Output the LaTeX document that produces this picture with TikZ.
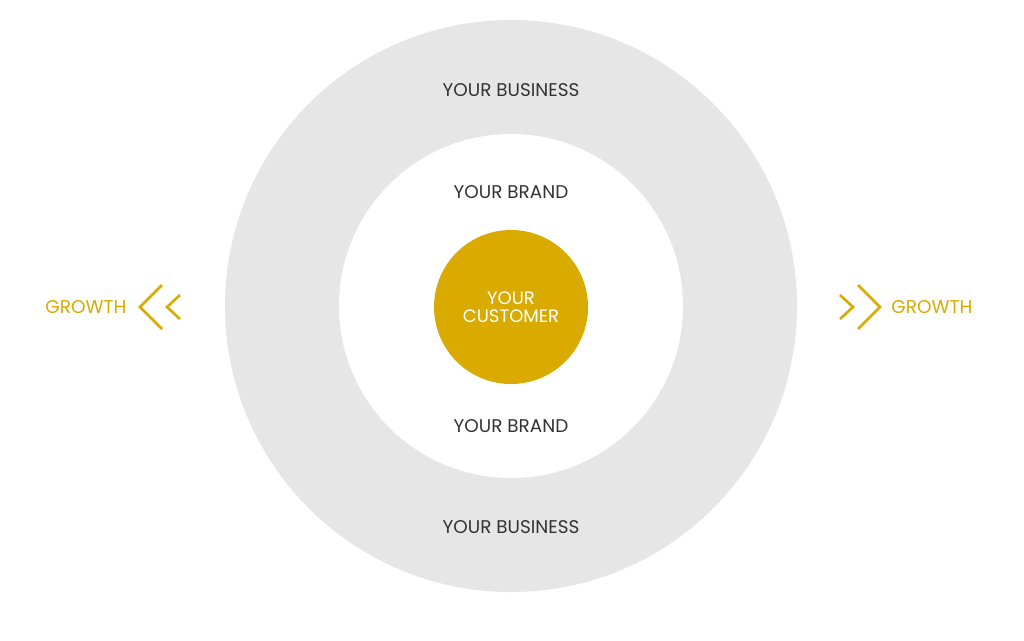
\documentclass[tikz,border=0pt]{standalone}
\usepackage{fontspec}
\setmainfont{Poppins}
\definecolor{gold}{HTML}{D9AA00}
\definecolor{ring}{HTML}{E6E6E6}
\definecolor{txt}{HTML}{333333}
\begin{document}
\begin{tikzpicture}[x=1pt,y=-1pt,
  lbl/.style={font=\fontsize{18.4}{20}\selectfont, text=txt, inner sep=0pt},
  growlbl/.style={font=\fontsize{18.5}{20}\selectfont, text=gold, inner sep=0pt},
  chev/.style={draw=gold, line width=2.6pt, line cap=butt, line join=miter}]
\useasboundingbox[fill=white] (0,0) rectangle (1024,640);
\node[circle, fill=ring, minimum size=572pt, inner sep=0pt] (business) at (511,306) {};
\node[circle, fill=white, minimum size=344pt, inner sep=0pt] (brand) at (511,306) {};
\node[circle, fill=gold, minimum size=154pt, inner sep=0pt, align=center, text=white,
  font=\fontsize{18}{18}\selectfont] (customer) at (511,307) {YOUR\\CUSTOMER};
\node[lbl] (b1) at (511,90) {YOUR BUSINESS};
\node[lbl] (b2) at (511,527) {YOUR BUSINESS};
\node[lbl] (r1) at (511,192) {YOUR BRAND};
\node[lbl] (r2) at (511,426) {YOUR BRAND};
\node[growlbl] (gl) at (86,307) {GROWTH};
\node[growlbl] (gr) at (932,307) {GROWTH};
\draw[chev] (162,285) -- (140,307) -- (162,329);
\draw[chev] (180,295) -- (167,307) -- (180,319);
\draw[chev] (858,285) -- (880,307) -- (858,329);
\draw[chev] (840,295) -- (853,307) -- (840,319);
\end{tikzpicture}
\end{document}
